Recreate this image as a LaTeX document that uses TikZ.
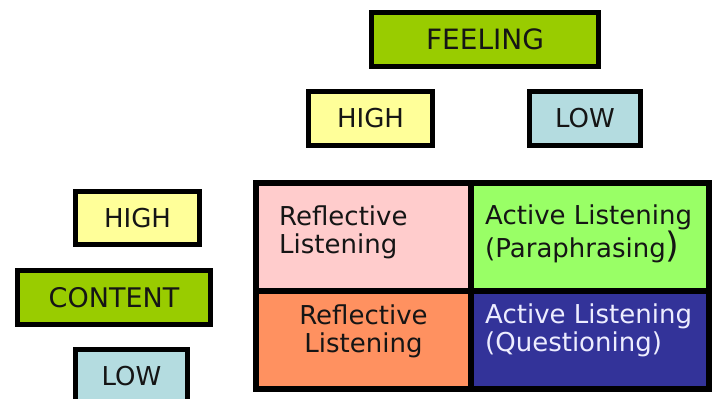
\documentclass[tikz,border=0pt]{standalone}
\usepackage{fontspec}
\setmainfont{DejaVu Sans}
\definecolor{labelgreen}{HTML}{99CC00}
\definecolor{labelyellow}{HTML}{FFFF99}
\definecolor{labelblue}{HTML}{B4DCE0}
\definecolor{cellpink}{HTML}{FFCCCC}
\definecolor{cellgreen}{HTML}{99FF66}
\definecolor{cellorange}{HTML}{FF9160}
\definecolor{cellnavy}{HTML}{333399}
\definecolor{ink}{HTML}{151515}
\tikzset{
  labelbox/.style={draw=black, line width=5pt, inner sep=0pt, text=ink,
    minimum height=54pt},
  axis/.style={labelbox, fill=labelgreen, font=\fontsize{28}{32}\selectfont},
  axisc/.style={labelbox, fill=labelgreen, font=\fontsize{27}{32}\selectfont},
  hi/.style={labelbox, fill=labelyellow, font=\fontsize{26}{30}\selectfont},
  lo/.style={labelbox, fill=labelblue, font=\fontsize{26}{30}\selectfont},
  cell/.style={draw=black, line width=6pt, inner sep=0pt},
  celltext/.style={inner sep=0pt, text=ink, font=\fontsize{26}{28}\selectfont}
}
\begin{document}
\begin{tikzpicture}[x=1pt, y=-1pt]
  \useasboundingbox (0,0) rectangle (713,399);
  \clip (0,0) rectangle (713,399);

  % feeling axis (columns)
  \node[axis, minimum width=227pt] (feeling) at (485,39.5) {FEELING};
  \node[hi, minimum width=124pt] (fhigh) at (370.5,118.5) {HIGH};
  \node[lo, minimum width=111pt] (flow) at (585,118.5) {LOW};

  % content axis (rows)
  \node[hi, minimum width=124pt, minimum height=53pt] (chigh) at (137.5,218) {HIGH};
  \node[axisc, minimum width=193pt] (content) at (114,297.5) {CONTENT};
  \node[lo, minimum width=112pt] (clow) at (131.5,376.5) {LOW};

  % the four quadrants
  \node[cell, fill=cellpink, minimum width=214.5pt, minimum height=108pt] (tl) at (363.25,237) {};
  \node[cell, fill=cellgreen, minimum width=238.5pt, minimum height=108pt] (tr) at (589.75,237) {};
  \node[cell, fill=cellorange, minimum width=214.5pt, minimum height=98pt] (bl) at (363.25,340) {};
  \node[cell, fill=cellnavy, minimum width=238.5pt, minimum height=98pt] (br) at (589.75,340) {};

  % quadrant captions
  \node[celltext, anchor=north west, align=left] (tltext) at (279,206)
    {Reflective\\Listening};
  \node[celltext, anchor=north west, align=left] (trtext) at (485,205)
    {Active Listening\\(Paraphrasing{\fontsize{35}{28}\selectfont)}};
  \node[celltext, anchor=north, align=center] (bltext) at (363.5,305)
    {Reflective\\Listening};
  \node[celltext, anchor=north west, align=left, text=white!93!blue] (brtext) at (485,304)
    {Active Listening\\(Questioning)};
\end{tikzpicture}
\end{document}
